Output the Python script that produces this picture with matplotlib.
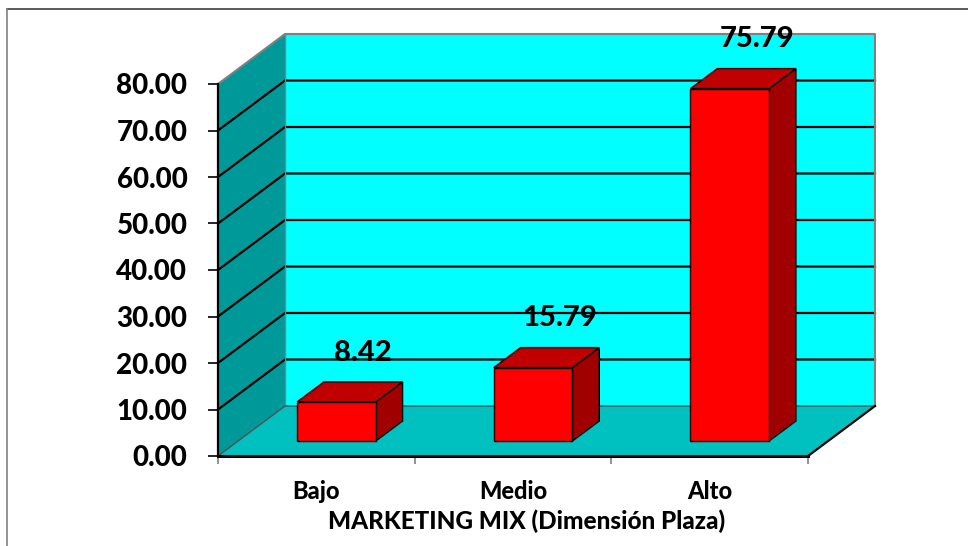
import matplotlib
matplotlib.use("Agg")
import matplotlib.pyplot as plt
from matplotlib.patches import Polygon
from matplotlib.lines import Line2D

categorias = ["Bajo", "Medio", "Alto"]
porcentajes = [8.42, 15.79, 75.79]
marcas_y = [0, 10, 20, 30, 40, 50, 60, 70, 80]
titulo_x = "MARKETING MIX (Dimensión Plaza)"

plt.rcParams["font.family"] = ["Lato", "DejaVu Sans"]
PESO = "black"

W, H = 968, 546
fig = plt.figure(figsize=(W / 100, H / 100), dpi=100)
ax = fig.add_axes([218 / W, (H - 456) / H, (808 - 218) / W, (456 - 84) / H])
ax.set_xlim(0, len(categorias))
ax.set_ylim(0, 80)
ax.set_facecolor("none")
for s in ax.spines.values():
    s.set_visible(False)

# depth of the 3D box in data units (oblique projection)
DX = 67 / (590 / 3)
DY = 50 / (372 / 80)
ymax = marcas_y[-1]
n = len(categorias)


def poly(pts, fc, ec="none", lw=0, z=1):
    p = Polygon(pts, closed=True, facecolor=fc, edgecolor=ec, linewidth=lw,
                zorder=z, clip_on=False, joinstyle="miter")
    ax.add_patch(p)


# walls and floor
poly([(DX, DY), (n + DX, DY), (n + DX, ymax + DY), (DX, ymax + DY)], "#00FFFF", z=1)
poly([(0, 0), (DX, DY), (DX, ymax + DY), (0, ymax)], "#009999", z=1)
poly([(0, 0), (n, 0), (n + DX, DY), (DX, DY)], "#00C0C0", z=1)

# gridlines on side and back walls
for v in marcas_y[1:-1]:
    ax.plot([0, DX, n + DX], [v, v + DY, v + DY], color="black", lw=1.6,
            zorder=2, clip_on=False, solid_joinstyle="miter")
ax.plot([0, DX, n + DX, n + DX], [ymax, ymax + DY, ymax + DY, DY],
        color="#808080", lw=1.5, zorder=2, clip_on=False)
ax.plot([DX, DX], [DY, ymax + DY], color="#808080", lw=1.0, zorder=2, clip_on=False)
ax.plot([0, DX, n + DX], [0, DY, DY], color="#505050", lw=1.0, zorder=2, clip_on=False)
ax.plot([n, n + DX], [0, DY], color="black", lw=1.6, zorder=2, clip_on=False)
ax.plot([0, 0], [0, ymax], color="black", lw=1.6, zorder=5, clip_on=False)
ax.plot([0, n], [0, 0], color="black", lw=2.2, zorder=5, clip_on=False)

# 3D bars
ancho = 0.4
d0, d1 = 0.3, 0.7
for i, v in enumerate(porcentajes):
    x0 = i + 0.5 - ancho / 2 + d0 * DX
    x1 = x0 + ancho
    y0 = d0 * DY
    y1 = v + d0 * DY
    ddx = (d1 - d0) * DX
    ddy = (d1 - d0) * DY
    poly([(x1, y0), (x1 + ddx, y0 + ddy), (x1 + ddx, y1 + ddy), (x1, y1)],
         "#A00000", "black", 1.0, z=3)
    poly([(x0, y1), (x1, y1), (x1 + ddx, y1 + ddy), (x0 + ddx, y1 + ddy)],
         "#C00000", "black", 1.0, z=3)
    poly([(x0, y0), (x1, y0), (x1, y1), (x0, y1)], "#FF0000", "black", 1.0, z=4)
    ax.text(i + 0.5 + d1 * DX, v + d1 * DY + 6.3, f"{v:.2f}", ha="center",
            va="center", fontsize=21, fontweight=PESO, zorder=6)

# axes ticks and labels
ax.set_yticks(marcas_y)
ax.set_yticklabels([f"{v:.2f}" for v in marcas_y], fontsize=20, fontweight=PESO)
ax.tick_params(axis="y", length=7, width=1.2, pad=15, color="black")
ax.set_xticks(range(n + 1))
ax.set_xticklabels([])
ax.tick_params(axis="x", length=6, width=1.2, color="#808080")
for i, c in enumerate(categorias):
    ax.text(i + 0.5, -7.7, c, ha="center", va="center", fontsize=17,
            fontweight=PESO)
ax.text(n / 2 + 0.07, -14.1, titulo_x, ha="center", va="center", fontsize=17.5,
        fontweight=PESO)

# chart-area border (top and left)
fig.add_artist(Line2D([7 / W, 1], [1 - 8.5 / H, 1 - 8.5 / H], color="#404040", lw=1.2))
fig.add_artist(Line2D([7 / W, 7 / W], [0, 1 - 8.5 / H], color="#808080", lw=1.2))

fig.savefig("out.png", dpi=100)
